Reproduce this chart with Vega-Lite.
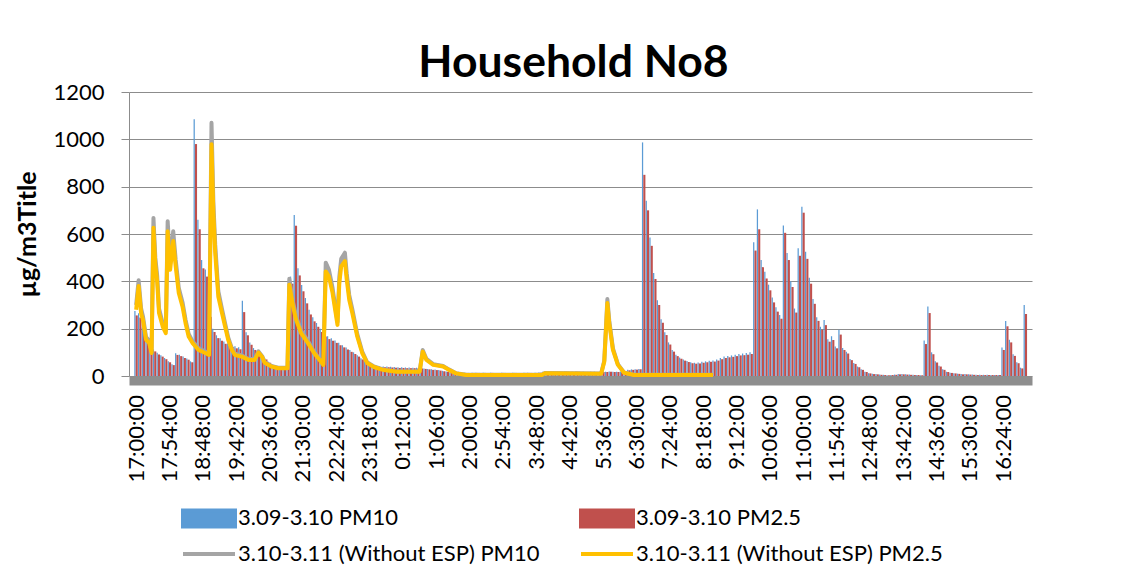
{
"$schema": "https://vega.github.io/schema/vega-lite/v6.json",
"width": 903, "height": 284,
"autosize": {"type": "none"},
"padding": {"left": 129, "top": 92, "right": 102, "bottom": 208},
"background": "white",
"config": {"view": {"stroke": null}, "font": "Lato", "axis": {"labelOverlap": false}},
"title": {"text": "Household No8", "font": "Lato", "fontSize": 44.5, "fontWeight": "bold", "color": "black", "anchor": "middle", "frame": "group", "dx": -7, "baseline": "alphabetic", "offset": -40},
"datasets": {
"bars": [
{"t":"2024-03-09T17:00","pm10":275,"pm25":256},
{"t":"2024-03-09T17:06","pm10":265,"pm25":247},
{"t":"2024-03-09T17:12","pm10":205,"pm25":191},
{"t":"2024-03-09T17:18","pm10":165,"pm25":154},
{"t":"2024-03-09T17:24","pm10":140,"pm25":130},
{"t":"2024-03-09T17:30","pm10":112,"pm25":104},
{"t":"2024-03-09T17:36","pm10":98,"pm25":91},
{"t":"2024-03-09T17:42","pm10":88,"pm25":82},
{"t":"2024-03-09T17:48","pm10":76,"pm25":71},
{"t":"2024-03-09T17:54","pm10":62,"pm25":58},
{"t":"2024-03-09T18:00","pm10":50,"pm25":46},
{"t":"2024-03-09T18:06","pm10":96,"pm25":89},
{"t":"2024-03-09T18:12","pm10":90,"pm25":84},
{"t":"2024-03-09T18:18","pm10":82,"pm25":76},
{"t":"2024-03-09T18:24","pm10":74,"pm25":69},
{"t":"2024-03-09T18:30","pm10":62,"pm25":58},
{"t":"2024-03-09T18:36","pm10":1085,"pm25":980},
{"t":"2024-03-09T18:42","pm10":660,"pm25":620},
{"t":"2024-03-09T18:48","pm10":490,"pm25":455},
{"t":"2024-03-09T18:54","pm10":450,"pm25":420},
{"t":"2024-03-09T19:00","pm10":270,"pm25":250},
{"t":"2024-03-09T19:06","pm10":200,"pm25":186},
{"t":"2024-03-09T19:12","pm10":172,"pm25":160},
{"t":"2024-03-09T19:18","pm10":160,"pm25":149},
{"t":"2024-03-09T19:24","pm10":146,"pm25":136},
{"t":"2024-03-09T19:30","pm10":138,"pm25":128},
{"t":"2024-03-09T19:36","pm10":131,"pm25":122},
{"t":"2024-03-09T19:42","pm10":126,"pm25":117},
{"t":"2024-03-09T19:48","pm10":122,"pm25":113},
{"t":"2024-03-09T19:54","pm10":318,"pm25":270},
{"t":"2024-03-09T20:00","pm10":185,"pm25":172},
{"t":"2024-03-09T20:06","pm10":142,"pm25":132},
{"t":"2024-03-09T20:12","pm10":118,"pm25":110},
{"t":"2024-03-09T20:18","pm10":103,"pm25":96},
{"t":"2024-03-09T20:24","pm10":88,"pm25":82},
{"t":"2024-03-09T20:30","pm10":75,"pm25":70},
{"t":"2024-03-09T20:36","pm10":60,"pm25":56},
{"t":"2024-03-09T20:42","pm10":50,"pm25":46},
{"t":"2024-03-09T20:48","pm10":42,"pm25":39},
{"t":"2024-03-09T20:54","pm10":40,"pm25":37},
{"t":"2024-03-09T21:00","pm10":38,"pm25":35},
{"t":"2024-03-09T21:06","pm10":70,"pm25":65},
{"t":"2024-03-09T21:12","pm10":420,"pm25":390},
{"t":"2024-03-09T21:18","pm10":680,"pm25":635},
{"t":"2024-03-09T21:24","pm10":455,"pm25":425},
{"t":"2024-03-09T21:30","pm10":385,"pm25":358},
{"t":"2024-03-09T21:36","pm10":330,"pm25":307},
{"t":"2024-03-09T21:42","pm10":280,"pm25":260},
{"t":"2024-03-09T21:48","pm10":248,"pm25":231},
{"t":"2024-03-09T21:54","pm10":224,"pm25":208},
{"t":"2024-03-09T22:00","pm10":200,"pm25":186},
{"t":"2024-03-09T22:06","pm10":180,"pm25":167},
{"t":"2024-03-09T22:12","pm10":168,"pm25":156},
{"t":"2024-03-09T22:18","pm10":160,"pm25":149},
{"t":"2024-03-09T22:24","pm10":150,"pm25":140},
{"t":"2024-03-09T22:30","pm10":140,"pm25":130},
{"t":"2024-03-09T22:36","pm10":130,"pm25":121},
{"t":"2024-03-09T22:42","pm10":120,"pm25":112},
{"t":"2024-03-09T22:48","pm10":110,"pm25":102},
{"t":"2024-03-09T22:54","pm10":100,"pm25":93},
{"t":"2024-03-09T23:00","pm10":88,"pm25":82},
{"t":"2024-03-09T23:06","pm10":75,"pm25":70},
{"t":"2024-03-09T23:12","pm10":62,"pm25":58},
{"t":"2024-03-09T23:18","pm10":52,"pm25":48},
{"t":"2024-03-09T23:24","pm10":46,"pm25":43},
{"t":"2024-03-09T23:30","pm10":43,"pm25":40},
{"t":"2024-03-09T23:36","pm10":41,"pm25":38},
{"t":"2024-03-09T23:42","pm10":40,"pm25":37},
{"t":"2024-03-09T23:48","pm10":40,"pm25":37},
{"t":"2024-03-09T23:54","pm10":39,"pm25":36},
{"t":"2024-03-10T00:00","pm10":38,"pm25":35},
{"t":"2024-03-10T00:06","pm10":37,"pm25":34},
{"t":"2024-03-10T00:12","pm10":37,"pm25":34},
{"t":"2024-03-10T00:18","pm10":36,"pm25":33},
{"t":"2024-03-10T00:24","pm10":36,"pm25":33},
{"t":"2024-03-10T00:30","pm10":35,"pm25":33},
{"t":"2024-03-10T00:36","pm10":35,"pm25":32},
{"t":"2024-03-10T00:42","pm10":34,"pm25":32},
{"t":"2024-03-10T00:48","pm10":32,"pm25":30},
{"t":"2024-03-10T00:54","pm10":30,"pm25":28},
{"t":"2024-03-10T01:00","pm10":28,"pm25":26},
{"t":"2024-03-10T01:06","pm10":27,"pm25":25},
{"t":"2024-03-10T01:12","pm10":25,"pm25":23},
{"t":"2024-03-10T01:18","pm10":22,"pm25":20},
{"t":"2024-03-10T01:24","pm10":19,"pm25":18},
{"t":"2024-03-10T01:30","pm10":16,"pm25":15},
{"t":"2024-03-10T01:36","pm10":15,"pm25":14},
{"t":"2024-03-10T01:42","pm10":14,"pm25":13},
{"t":"2024-03-10T01:48","pm10":14,"pm25":13},
{"t":"2024-03-10T01:54","pm10":14,"pm25":13},
{"t":"2024-03-10T02:00","pm10":13,"pm25":12},
{"t":"2024-03-10T02:06","pm10":14,"pm25":13},
{"t":"2024-03-10T02:12","pm10":14,"pm25":13},
{"t":"2024-03-10T02:18","pm10":13,"pm25":12},
{"t":"2024-03-10T02:24","pm10":14,"pm25":13},
{"t":"2024-03-10T02:30","pm10":13,"pm25":12},
{"t":"2024-03-10T02:36","pm10":14,"pm25":13},
{"t":"2024-03-10T02:42","pm10":13,"pm25":12},
{"t":"2024-03-10T02:48","pm10":13,"pm25":12},
{"t":"2024-03-10T02:54","pm10":14,"pm25":13},
{"t":"2024-03-10T03:00","pm10":13,"pm25":12},
{"t":"2024-03-10T03:06","pm10":13,"pm25":12},
{"t":"2024-03-10T03:12","pm10":14,"pm25":13},
{"t":"2024-03-10T03:18","pm10":13,"pm25":12},
{"t":"2024-03-10T03:24","pm10":13,"pm25":12},
{"t":"2024-03-10T03:30","pm10":14,"pm25":13},
{"t":"2024-03-10T03:36","pm10":14,"pm25":13},
{"t":"2024-03-10T03:42","pm10":13,"pm25":12},
{"t":"2024-03-10T03:48","pm10":14,"pm25":13},
{"t":"2024-03-10T03:54","pm10":15,"pm25":14},
{"t":"2024-03-10T04:00","pm10":18,"pm25":17},
{"t":"2024-03-10T04:06","pm10":19,"pm25":18},
{"t":"2024-03-10T04:12","pm10":19,"pm25":18},
{"t":"2024-03-10T04:18","pm10":20,"pm25":18},
{"t":"2024-03-10T04:24","pm10":19,"pm25":18},
{"t":"2024-03-10T04:30","pm10":18,"pm25":17},
{"t":"2024-03-10T04:36","pm10":19,"pm25":18},
{"t":"2024-03-10T04:42","pm10":18,"pm25":17},
{"t":"2024-03-10T04:48","pm10":18,"pm25":17},
{"t":"2024-03-10T04:54","pm10":19,"pm25":18},
{"t":"2024-03-10T05:00","pm10":18,"pm25":17},
{"t":"2024-03-10T05:06","pm10":18,"pm25":17},
{"t":"2024-03-10T05:12","pm10":17,"pm25":16},
{"t":"2024-03-10T05:18","pm10":18,"pm25":17},
{"t":"2024-03-10T05:24","pm10":18,"pm25":17},
{"t":"2024-03-10T05:30","pm10":17,"pm25":16},
{"t":"2024-03-10T05:36","pm10":18,"pm25":17},
{"t":"2024-03-10T05:42","pm10":18,"pm25":17},
{"t":"2024-03-10T05:48","pm10":19,"pm25":18},
{"t":"2024-03-10T05:54","pm10":18,"pm25":17},
{"t":"2024-03-10T06:00","pm10":18,"pm25":17},
{"t":"2024-03-10T06:06","pm10":19,"pm25":18},
{"t":"2024-03-10T06:12","pm10":20,"pm25":19},
{"t":"2024-03-10T06:18","pm10":26,"pm25":24},
{"t":"2024-03-10T06:24","pm10":28,"pm25":26},
{"t":"2024-03-10T06:30","pm10":29,"pm25":27},
{"t":"2024-03-10T06:36","pm10":30,"pm25":28},
{"t":"2024-03-10T06:42","pm10":987,"pm25":850},
{"t":"2024-03-10T06:48","pm10":740,"pm25":700},
{"t":"2024-03-10T06:54","pm10":585,"pm25":550},
{"t":"2024-03-10T07:00","pm10":435,"pm25":410},
{"t":"2024-03-10T07:06","pm10":320,"pm25":300},
{"t":"2024-03-10T07:12","pm10":240,"pm25":225},
{"t":"2024-03-10T07:18","pm10":185,"pm25":173},
{"t":"2024-03-10T07:24","pm10":142,"pm25":133},
{"t":"2024-03-10T07:30","pm10":110,"pm25":103},
{"t":"2024-03-10T07:36","pm10":90,"pm25":84},
{"t":"2024-03-10T07:42","pm10":78,"pm25":73},
{"t":"2024-03-10T07:48","pm10":70,"pm25":65},
{"t":"2024-03-10T07:54","pm10":63,"pm25":59},
{"t":"2024-03-10T08:00","pm10":58,"pm25":54},
{"t":"2024-03-10T08:06","pm10":56,"pm25":52},
{"t":"2024-03-10T08:12","pm10":57,"pm25":53},
{"t":"2024-03-10T08:18","pm10":60,"pm25":56},
{"t":"2024-03-10T08:24","pm10":62,"pm25":58},
{"t":"2024-03-10T08:30","pm10":64,"pm25":60},
{"t":"2024-03-10T08:36","pm10":65,"pm25":61},
{"t":"2024-03-10T08:42","pm10":70,"pm25":65},
{"t":"2024-03-10T08:48","pm10":76,"pm25":71},
{"t":"2024-03-10T08:54","pm10":82,"pm25":76},
{"t":"2024-03-10T09:00","pm10":85,"pm25":79},
{"t":"2024-03-10T09:06","pm10":87,"pm25":81},
{"t":"2024-03-10T09:12","pm10":90,"pm25":84},
{"t":"2024-03-10T09:18","pm10":93,"pm25":87},
{"t":"2024-03-10T09:24","pm10":95,"pm25":88},
{"t":"2024-03-10T09:30","pm10":97,"pm25":90},
{"t":"2024-03-10T09:36","pm10":100,"pm25":93},
{"t":"2024-03-10T09:42","pm10":565,"pm25":530},
{"t":"2024-03-10T09:48","pm10":704,"pm25":620},
{"t":"2024-03-10T09:54","pm10":490,"pm25":460},
{"t":"2024-03-10T10:00","pm10":440,"pm25":412},
{"t":"2024-03-10T10:06","pm10":386,"pm25":362},
{"t":"2024-03-10T10:12","pm10":332,"pm25":311},
{"t":"2024-03-10T10:18","pm10":290,"pm25":272},
{"t":"2024-03-10T10:24","pm10":258,"pm25":242},
{"t":"2024-03-10T10:30","pm10":636,"pm25":605},
{"t":"2024-03-10T10:36","pm10":520,"pm25":490},
{"t":"2024-03-10T10:42","pm10":400,"pm25":376},
{"t":"2024-03-10T10:48","pm10":285,"pm25":268},
{"t":"2024-03-10T10:54","pm10":540,"pm25":508},
{"t":"2024-03-10T11:00","pm10":715,"pm25":690},
{"t":"2024-03-10T11:06","pm10":525,"pm25":495},
{"t":"2024-03-10T11:12","pm10":415,"pm25":390},
{"t":"2024-03-10T11:18","pm10":325,"pm25":305},
{"t":"2024-03-10T11:24","pm10":248,"pm25":233},
{"t":"2024-03-10T11:30","pm10":208,"pm25":195},
{"t":"2024-03-10T11:36","pm10":237,"pm25":215},
{"t":"2024-03-10T11:42","pm10":155,"pm25":145},
{"t":"2024-03-10T11:48","pm10":168,"pm25":152},
{"t":"2024-03-10T11:54","pm10":125,"pm25":117},
{"t":"2024-03-10T12:00","pm10":195,"pm25":175},
{"t":"2024-03-10T12:06","pm10":118,"pm25":110},
{"t":"2024-03-10T12:12","pm10":102,"pm25":95},
{"t":"2024-03-10T12:18","pm10":72,"pm25":67},
{"t":"2024-03-10T12:24","pm10":55,"pm25":51},
{"t":"2024-03-10T12:30","pm10":40,"pm25":37},
{"t":"2024-03-10T12:36","pm10":28,"pm25":26},
{"t":"2024-03-10T12:42","pm10":18,"pm25":17},
{"t":"2024-03-10T12:48","pm10":12,"pm25":11},
{"t":"2024-03-10T12:54","pm10":9,"pm25":8},
{"t":"2024-03-10T13:00","pm10":8,"pm25":7},
{"t":"2024-03-10T13:06","pm10":6,"pm25":5},
{"t":"2024-03-10T13:12","pm10":5,"pm25":4},
{"t":"2024-03-10T13:18","pm10":3,"pm25":3},
{"t":"2024-03-10T13:24","pm10":4,"pm25":4},
{"t":"2024-03-10T13:30","pm10":6,"pm25":5},
{"t":"2024-03-10T13:36","pm10":8,"pm25":7},
{"t":"2024-03-10T13:42","pm10":8,"pm25":7},
{"t":"2024-03-10T13:48","pm10":7,"pm25":6},
{"t":"2024-03-10T13:54","pm10":6,"pm25":5},
{"t":"2024-03-10T14:00","pm10":5,"pm25":4},
{"t":"2024-03-10T14:06","pm10":4,"pm25":4},
{"t":"2024-03-10T14:12","pm10":3,"pm25":3},
{"t":"2024-03-10T14:18","pm10":150,"pm25":135},
{"t":"2024-03-10T14:24","pm10":294,"pm25":266},
{"t":"2024-03-10T14:30","pm10":100,"pm25":92},
{"t":"2024-03-10T14:36","pm10":62,"pm25":57},
{"t":"2024-03-10T14:42","pm10":43,"pm25":40},
{"t":"2024-03-10T14:48","pm10":28,"pm25":26},
{"t":"2024-03-10T14:54","pm10":18,"pm25":17},
{"t":"2024-03-10T15:00","pm10":14,"pm25":13},
{"t":"2024-03-10T15:06","pm10":12,"pm25":11},
{"t":"2024-03-10T15:12","pm10":10,"pm25":9},
{"t":"2024-03-10T15:18","pm10":8,"pm25":7},
{"t":"2024-03-10T15:24","pm10":8,"pm25":7},
{"t":"2024-03-10T15:30","pm10":7,"pm25":6},
{"t":"2024-03-10T15:36","pm10":6,"pm25":5},
{"t":"2024-03-10T15:42","pm10":5,"pm25":4},
{"t":"2024-03-10T15:48","pm10":5,"pm25":4},
{"t":"2024-03-10T15:54","pm10":5,"pm25":4},
{"t":"2024-03-10T16:00","pm10":5,"pm25":4},
{"t":"2024-03-10T16:06","pm10":4,"pm25":4},
{"t":"2024-03-10T16:12","pm10":4,"pm25":4},
{"t":"2024-03-10T16:18","pm10":4,"pm25":4},
{"t":"2024-03-10T16:24","pm10":120,"pm25":110},
{"t":"2024-03-10T16:30","pm10":232,"pm25":210},
{"t":"2024-03-10T16:36","pm10":153,"pm25":142},
{"t":"2024-03-10T16:42","pm10":92,"pm25":85},
{"t":"2024-03-10T16:48","pm10":58,"pm25":54},
{"t":"2024-03-10T16:54","pm10":35,"pm25":32},
{"t":"2024-03-10T17:00","pm10":300,"pm25":262}
],
"lines": [
{"t":"2024-03-09T17:00","pm10":300,"pm25":280},
{"t":"2024-03-09T17:04","pm10":405,"pm25":380},
{"t":"2024-03-09T17:08","pm10":285,"pm25":266},
{"t":"2024-03-09T17:11","pm10":252,"pm25":237},
{"t":"2024-03-09T17:16","pm10":165,"pm25":153},
{"t":"2024-03-09T17:21","pm10":150,"pm25":140},
{"t":"2024-03-09T17:25","pm10":105,"pm25":97},
{"t":"2024-03-09T17:28","pm10":668,"pm25":626},
{"t":"2024-03-09T17:31","pm10":500,"pm25":470},
{"t":"2024-03-09T17:34","pm10":425,"pm25":400},
{"t":"2024-03-09T17:37","pm10":285,"pm25":266},
{"t":"2024-03-09T17:43","pm10":222,"pm25":209},
{"t":"2024-03-09T17:48","pm10":192,"pm25":181},
{"t":"2024-03-09T17:51","pm10":654,"pm25":612},
{"t":"2024-03-09T17:55","pm10":475,"pm25":449},
{"t":"2024-03-09T18:00","pm10":612,"pm25":570},
{"t":"2024-03-09T18:04","pm10":490,"pm25":463},
{"t":"2024-03-09T18:09","pm10":372,"pm25":351},
{"t":"2024-03-09T18:15","pm10":312,"pm25":294},
{"t":"2024-03-09T18:20","pm10":237,"pm25":223},
{"t":"2024-03-09T18:25","pm10":178,"pm25":167},
{"t":"2024-03-09T18:31","pm10":148,"pm25":140},
{"t":"2024-03-09T18:41","pm10":117,"pm25":110},
{"t":"2024-03-09T18:52","pm10":103,"pm25":97},
{"t":"2024-03-09T18:58","pm10":95,"pm25":89},
{"t":"2024-03-09T19:02","pm10":1070,"pm25":979},
{"t":"2024-03-09T19:05","pm10":735,"pm25":690},
{"t":"2024-03-09T19:08","pm10":555,"pm25":520},
{"t":"2024-03-09T19:13","pm10":358,"pm25":336},
{"t":"2024-03-09T19:19","pm10":282,"pm25":266},
{"t":"2024-03-09T19:24","pm10":222,"pm25":209},
{"t":"2024-03-09T19:29","pm10":163,"pm25":153},
{"t":"2024-03-09T19:35","pm10":117,"pm25":110},
{"t":"2024-03-09T19:40","pm10":94,"pm25":89},
{"t":"2024-03-09T19:51","pm10":87,"pm25":82},
{"t":"2024-03-09T20:02","pm10":72,"pm25":68},
{"t":"2024-03-09T20:12","pm10":72,"pm25":68},
{"t":"2024-03-09T20:18","pm10":104,"pm25":99},
{"t":"2024-03-09T20:24","pm10":84,"pm25":80},
{"t":"2024-03-09T20:28","pm10":59,"pm25":56},
{"t":"2024-03-09T20:39","pm10":42,"pm25":40},
{"t":"2024-03-09T20:50","pm10":35,"pm25":33},
{"t":"2024-03-09T21:05","pm10":35,"pm25":33},
{"t":"2024-03-09T21:08","pm10":411,"pm25":386},
{"t":"2024-03-09T21:14","pm10":312,"pm25":294},
{"t":"2024-03-09T21:19","pm10":252,"pm25":237},
{"t":"2024-03-09T21:27","pm10":192,"pm25":181},
{"t":"2024-03-09T21:38","pm10":149,"pm25":140},
{"t":"2024-03-09T21:48","pm10":103,"pm25":97},
{"t":"2024-03-09T21:59","pm10":65,"pm25":61},
{"t":"2024-03-09T22:03","pm10":50,"pm25":47},
{"t":"2024-03-09T22:07","pm10":479,"pm25":442},
{"t":"2024-03-09T22:12","pm10":450,"pm25":421},
{"t":"2024-03-09T22:18","pm10":372,"pm25":351},
{"t":"2024-03-09T22:23","pm10":282,"pm25":266},
{"t":"2024-03-09T22:26","pm10":229,"pm25":216},
{"t":"2024-03-09T22:29","pm10":420,"pm25":394},
{"t":"2024-03-09T22:32","pm10":495,"pm25":463},
{"t":"2024-03-09T22:38","pm10":521,"pm25":485},
{"t":"2024-03-09T22:41","pm10":432,"pm25":407},
{"t":"2024-03-09T22:45","pm10":342,"pm25":322},
{"t":"2024-03-09T22:50","pm10":282,"pm25":266},
{"t":"2024-03-09T22:58","pm10":177,"pm25":167},
{"t":"2024-03-09T23:06","pm10":103,"pm25":97},
{"t":"2024-03-09T23:14","pm10":58,"pm25":55},
{"t":"2024-03-09T23:25","pm10":40,"pm25":38},
{"t":"2024-03-09T23:41","pm10":27,"pm25":25},
{"t":"2024-03-10T00:02","pm10":19,"pm25":18},
{"t":"2024-03-10T00:39","pm10":19,"pm25":18},
{"t":"2024-03-10T00:44","pm10":110,"pm25":103},
{"t":"2024-03-10T00:50","pm10":72,"pm25":68},
{"t":"2024-03-10T01:01","pm10":50,"pm25":47},
{"t":"2024-03-10T01:17","pm10":42,"pm25":40},
{"t":"2024-03-10T01:27","pm10":27,"pm25":25},
{"t":"2024-03-10T01:38","pm10":12,"pm25":11},
{"t":"2024-03-10T01:54","pm10":5,"pm25":4},
{"t":"2024-03-10T03:57","pm10":5,"pm25":4},
{"t":"2024-03-10T04:02","pm10":13,"pm25":12},
{"t":"2024-03-10T05:33","pm10":11,"pm25":10},
{"t":"2024-03-10T05:38","pm10":65,"pm25":60},
{"t":"2024-03-10T05:43","pm10":325,"pm25":308},
{"t":"2024-03-10T05:46","pm10":236,"pm25":223},
{"t":"2024-03-10T05:52","pm10":117,"pm25":110},
{"t":"2024-03-10T06:00","pm10":50,"pm25":47},
{"t":"2024-03-10T06:10","pm10":15,"pm25":14},
{"t":"2024-03-10T06:26","pm10":5,"pm25":4},
{"t":"2024-03-10T08:34","pm10":5,"pm25":4}
]
},
"layer": [
{"data": {"name": "bars"},
 "mark": {"type": "bar", "width": 1.25, "xOffset": -1.25},
 "encoding": {
  "x": {"field": "t", "type": "temporal",
   "scale": {"domain": [{"year":2024,"month":3,"date":9,"hours":16,"minutes":56,"seconds":30},{"year":2024,"month":3,"date":10,"hours":17,"minutes":2,"seconds":30}]},
   "axis": {"title": null, "format": "%-H:%M:%S", "labelAngle": 270, "labelFont": "Lato", "labelFontSize": 22, "labelColor": "black", "ticks": false, "tickSize": 0, "tickCount": 40, "domainColor": "#8e8e8e", "domainWidth": 9, "offset": 4.5, "labelPadding": 14, "grid": false, "labelOverlap": false, "labelFlush": false, "labelBound": false,
    "values": [
     {"year":2024,"month":3,"date":9,"hours":17,"minutes":0},
     {"year":2024,"month":3,"date":9,"hours":17,"minutes":54},
     {"year":2024,"month":3,"date":9,"hours":18,"minutes":48},
     {"year":2024,"month":3,"date":9,"hours":19,"minutes":42},
     {"year":2024,"month":3,"date":9,"hours":20,"minutes":36},
     {"year":2024,"month":3,"date":9,"hours":21,"minutes":30},
     {"year":2024,"month":3,"date":9,"hours":22,"minutes":24},
     {"year":2024,"month":3,"date":9,"hours":23,"minutes":18},
     {"year":2024,"month":3,"date":10,"hours":0,"minutes":12},
     {"year":2024,"month":3,"date":10,"hours":1,"minutes":6},
     {"year":2024,"month":3,"date":10,"hours":2,"minutes":0},
     {"year":2024,"month":3,"date":10,"hours":2,"minutes":54},
     {"year":2024,"month":3,"date":10,"hours":3,"minutes":48},
     {"year":2024,"month":3,"date":10,"hours":4,"minutes":42},
     {"year":2024,"month":3,"date":10,"hours":5,"minutes":36},
     {"year":2024,"month":3,"date":10,"hours":6,"minutes":30},
     {"year":2024,"month":3,"date":10,"hours":7,"minutes":24},
     {"year":2024,"month":3,"date":10,"hours":8,"minutes":18},
     {"year":2024,"month":3,"date":10,"hours":9,"minutes":12},
     {"year":2024,"month":3,"date":10,"hours":10,"minutes":6},
     {"year":2024,"month":3,"date":10,"hours":11,"minutes":0},
     {"year":2024,"month":3,"date":10,"hours":11,"minutes":54},
     {"year":2024,"month":3,"date":10,"hours":12,"minutes":48},
     {"year":2024,"month":3,"date":10,"hours":13,"minutes":42},
     {"year":2024,"month":3,"date":10,"hours":14,"minutes":36},
     {"year":2024,"month":3,"date":10,"hours":15,"minutes":30},
     {"year":2024,"month":3,"date":10,"hours":16,"minutes":24}
    ]}},
  "y": {"field": "pm10", "type": "quantitative",
   "scale": {"domain": [0, 1200], "nice": false},
   "axis": {"title": "µg/m3Title", "titleFont": "Lato", "titleFontSize": 25, "titleFontWeight": "bold", "titleColor": "black", "titleAngle": 270, "titleX": -102, "titleY": 142, "titleAlign": "center", "titleBaseline": "middle",
    "values": [0, 200, 400, 600, 800, 1000, 1200], "format": "d", "grid": true, "gridColor": "#8c8c8c", "gridWidth": 1, "domainColor": "#8c8c8c", "tickColor": "#8c8c8c", "tickSize": 8, "labelFont": "Lato", "labelFontSize": 22, "labelColor": "black", "labelPadding": 17}},
  "color": {"datum": "3.09-3.10 PM10", "type": "nominal",
   "scale": {"domain": ["3.09-3.10 PM10", "3.09-3.10 PM2.5", "3.10-3.11 (Without ESP) PM10", "3.10-3.11 (Without ESP) PM2.5"], "range": ["#5B9BD5", "#C0504D", "#A5A5A5", "#FFC000"]},
   "legend": {"orient": "none", "legendX": 52, "legendY": 412, "direction": "horizontal", "columns": 2, "title": null, "padding": 0, "labelFont": "Lato", "labelFontSize": 22, "labelColor": "black", "labelLimit": 0, "symbolSize": 576, "symbolOffset": 14, "labelOffset": 15, "rowPadding": 5, "columnPadding": 32,
    "encode": {"symbols": {"update": {
     "shape": {"signal": "indexof(datum.value, '3.09') === 0 ? 'M-2.1667,-0.6667L2.1667,-0.6667L2.1667,0.6667L-2.1667,0.6667Z' : 'M-2.1667,0L2.1667,0'"},
     "size": {"value": 576},
     "fill": {"signal": "indexof(datum.value, '3.09') === 0 ? scale('color', datum.value) : 'transparent'"},
     "stroke": {"signal": "indexof(datum.value, '3.09') === 0 ? 'transparent' : scale('color', datum.value)"},
     "strokeWidth": {"value": 4},
     "opacity": {"value": 1},
     "fillOpacity": {"value": 1},
     "strokeOpacity": {"value": 1}
    }}}}}
 }},
{"data": {"name": "bars"},
 "mark": {"type": "bar", "width": 2.1, "xOffset": 0.55},
 "encoding": {
  "x": {"field": "t", "type": "temporal"},
  "y": {"field": "pm25", "type": "quantitative"},
  "color": {"datum": "3.09-3.10 PM2.5", "type": "nominal"}
 }},
{"data": {"name": "lines"},
 "mark": {"type": "line", "strokeWidth": 4, "strokeJoin": "round"},
 "encoding": {
  "x": {"field": "t", "type": "temporal"},
  "y": {"field": "pm10", "type": "quantitative"},
  "color": {"datum": "3.10-3.11 (Without ESP) PM10", "type": "nominal"}
 }},
{"data": {"name": "lines"},
 "mark": {"type": "line", "strokeWidth": 4, "strokeJoin": "round"},
 "encoding": {
  "x": {"field": "t", "type": "temporal"},
  "y": {"field": "pm25", "type": "quantitative"},
  "color": {"datum": "3.10-3.11 (Without ESP) PM2.5", "type": "nominal"}
 }}
]
}
